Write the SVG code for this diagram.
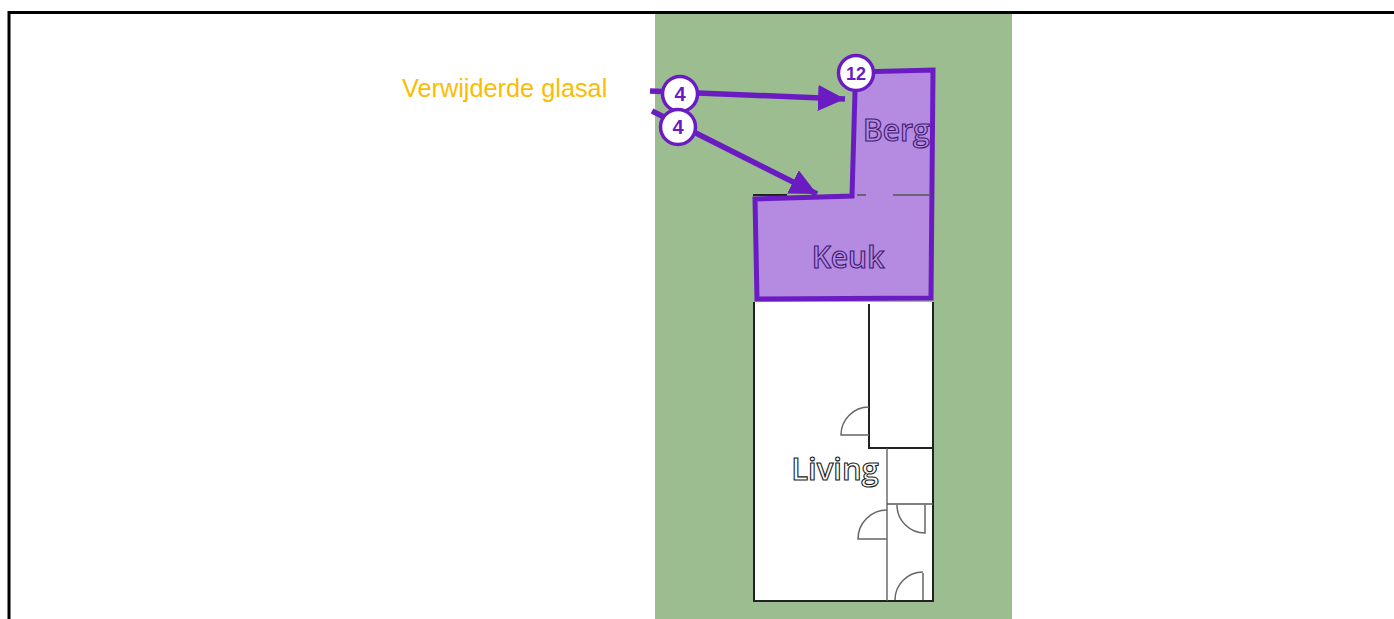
<svg xmlns="http://www.w3.org/2000/svg" width="1394" height="619" viewBox="0 0 1394 619">
<style>
.frame{stroke:#000;stroke-width:3;fill:none}
.wall{stroke:#222;stroke-width:2;fill:none}
.thin{stroke:#555;stroke-width:1.3;fill:none}
.door{stroke:#666;stroke-width:1.5;fill:none}
.zone{fill:#b48be0;stroke:#6a1cc2;stroke-width:5;stroke-linejoin:miter}
.room{font-family:"Open Sans","Liberation Sans",sans-serif;font-weight:600;stroke-width:1.1}
.badge circle{fill:#fff;stroke:#6a1cc2;stroke-width:3.5}
.badge text{font-family:"Liberation Sans",Arial,sans-serif;font-weight:bold;fill:#6a1cc2;text-anchor:middle}
.conn{stroke:#6a1cc2;stroke-width:5.5;fill:none}
</style>
<defs>
<marker id="ah" markerUnits="userSpaceOnUse" markerWidth="30" markerHeight="30" refX="27" refY="13" orient="auto">
<path d="M0,0 L27,13 L0,26 z" fill="#6a1cc2"/>
</marker>
</defs>
<rect width="1394" height="619" fill="#fff"/>
<rect x="655" y="14" width="357" height="605" fill="#9bbd8f"/>
<path class="frame" d="M9,619 V12.5 H1394"/>

<g id="floorplan">
<rect x="754" y="302" width="179" height="299" fill="#fff"/>
<path class="wall" d="M754,302 V601 H933 V302"/>
<path class="wall" d="M869,304 V448 H933"/>
<path class="thin" d="M887,448 V601 M887,504 H933"/>
<path class="wall" d="M753,195 H787"/>
<path class="door" d="M869,435 H841 A28,28 0 0 1 869,407"/>
<path class="door" d="M887,539 H858 A29,29 0 0 1 887,510"/>
<path class="door" d="M925,505 V533 A28,28 0 0 1 897,505"/>
<path class="door" d="M923,573 V600 M895,600 A28,28 0 0 1 923,572"/>
</g>

<g id="zone-keuken-berging">
<path class="zone" d="M855,92 L852,196 L755,199 L757,299 L931,298 L933,70 L856,72"/>
<path class="thin" d="M857,195 H866 M893,195 H931"/>
</g>

<g id="label-berg">
<text class="room" x="863" y="141" font-size="30" fill="#b48be0" stroke="#3d1670">Berg</text>
</g>
<g id="label-keuk">
<text class="room" x="848" y="268" font-size="30" text-anchor="middle" fill="#b48be0" stroke="#3d1670">Keuk</text>
</g>
<g id="label-living">
<text class="room" x="835" y="480" font-size="31" text-anchor="middle" fill="#fff" stroke="#1a1a1a">Living</text>
</g>

<g id="label-glasal">
<text x="402" y="97" font-family="'Liberation Sans',Arial,sans-serif" font-size="25.3" fill="#fbbc04">Verwijderde glasal</text>
</g>

<g id="connectors">
<line class="conn" x1="650" y1="91" x2="845" y2="99" marker-end="url(#ah)"/>
<line class="conn" x1="652" y1="111" x2="817" y2="194" marker-end="url(#ah)"/>
</g>

<g id="badge-4a" class="badge">
<circle cx="680" cy="94" r="17.5"/>
<text x="680" y="101" font-size="20">4</text>
</g>
<g id="badge-4b" class="badge">
<circle cx="678" cy="127" r="17.5"/>
<text x="678" y="134" font-size="20">4</text>
</g>
<g id="badge-12" class="badge">
<circle cx="856" cy="73" r="17.5"/>
<text x="856" y="80" font-size="18">12</text>
</g>
</svg>
